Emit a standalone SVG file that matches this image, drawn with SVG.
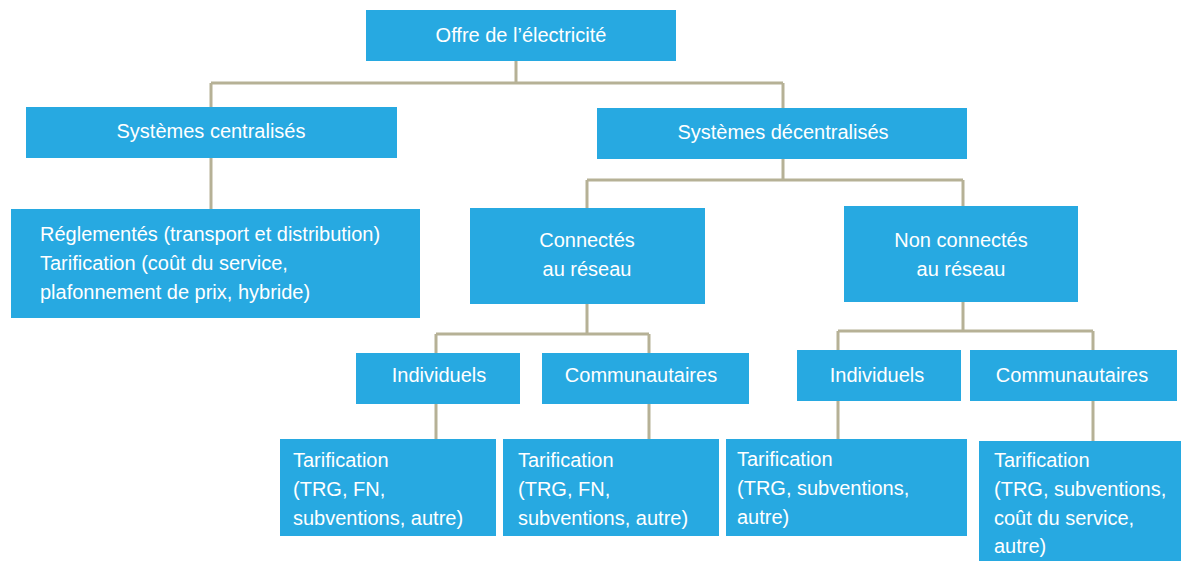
<svg xmlns="http://www.w3.org/2000/svg" width="1181" height="561" viewBox="0 0 1181 561">
<style>
.box{fill:#27A9E1}
.t{font-family:"Liberation Sans",Arial,sans-serif;font-size:20px;fill:#fff}
.c{text-anchor:middle}
.ln{fill:none;stroke:#B6B196;stroke-width:3}
</style>
<rect width="1181" height="561" fill="#fff"/>
<g id="connectors">
<path class="ln" d="M516 61V83M211 83H783M211 83V107M783 83V108"/>
<path class="ln" d="M211 158V209"/>
<path class="ln" d="M783 159V180M587 180H963M587 180V208M963 180V206"/>
<path class="ln" d="M587 304V334M436 334H649M436 334V353M649 334V353"/>
<path class="ln" d="M963 302V331M838 331H1093M838 331V350M1093 331V350"/>
<path class="ln" d="M436 404V439M649 404V439M838 401V439M1093 401V441"/>
</g>
<g id="root"><rect class="box" x="366" y="10" width="310" height="51"/><text class="t c" x="521" y="42">Offre de l’électricité</text></g>
<g id="centralises"><rect class="box" x="26" y="107" width="371" height="51"/><text class="t c" x="211" y="138">Systèmes centralisés</text></g>
<g id="decentralises"><rect class="box" x="597" y="108" width="370" height="51"/><text class="t c" x="783" y="139">Systèmes décentralisés</text></g>
<g id="reglementes"><rect class="box" x="11" y="209" width="409" height="109"/><text class="t" x="40" y="241">Réglementés (transport et distribution)</text><text class="t" x="40" y="270">Tarification (coût du service,</text><text class="t" x="40" y="299">plafonnement de prix, hybride)</text></g>
<g id="connectes"><rect class="box" x="470" y="208" width="235" height="96"/><text class="t c" x="587" y="247">Connectés</text><text class="t c" x="587" y="276">au réseau</text></g>
<g id="nonconnectes"><rect class="box" x="844" y="206" width="234" height="96"/><text class="t c" x="961" y="247">Non connectés</text><text class="t c" x="961" y="276">au réseau</text></g>
<g id="ind1"><rect class="box" x="356" y="353" width="164" height="51"/><text class="t c" x="439" y="382">Individuels</text></g>
<g id="com1"><rect class="box" x="542" y="353" width="207" height="51"/><text class="t c" x="641" y="382">Communautaires</text></g>
<g id="ind2"><rect class="box" x="797" y="350" width="164" height="51"/><text class="t c" x="877" y="382">Individuels</text></g>
<g id="com2"><rect class="box" x="970" y="350" width="207" height="51"/><text class="t c" x="1072" y="382">Communautaires</text></g>
<g id="tar1"><rect class="box" x="280" y="439" width="216" height="97"/><text class="t" x="293" y="467">Tarification</text><text class="t" x="293" y="496">(TRG, FN,</text><text class="t" x="293" y="525">subventions, autre)</text></g>
<g id="tar2"><rect class="box" x="503" y="439" width="216" height="97"/><text class="t" x="518" y="467">Tarification</text><text class="t" x="518" y="496">(TRG, FN,</text><text class="t" x="518" y="525">subventions, autre)</text></g>
<g id="tar3"><rect class="box" x="726" y="439" width="241" height="97"/><text class="t" x="737" y="466">Tarification</text><text class="t" x="737" y="495">(TRG, subventions,</text><text class="t" x="737" y="524">autre)</text></g>
<g id="tar4"><rect class="box" x="979" y="441" width="202" height="120"/><text class="t" x="994" y="467">Tarification</text><text class="t" x="994" y="496">(TRG, subventions,</text><text class="t" x="994" y="525">coût du service,</text><text class="t" x="994" y="553">autre)</text></g>
</svg>
